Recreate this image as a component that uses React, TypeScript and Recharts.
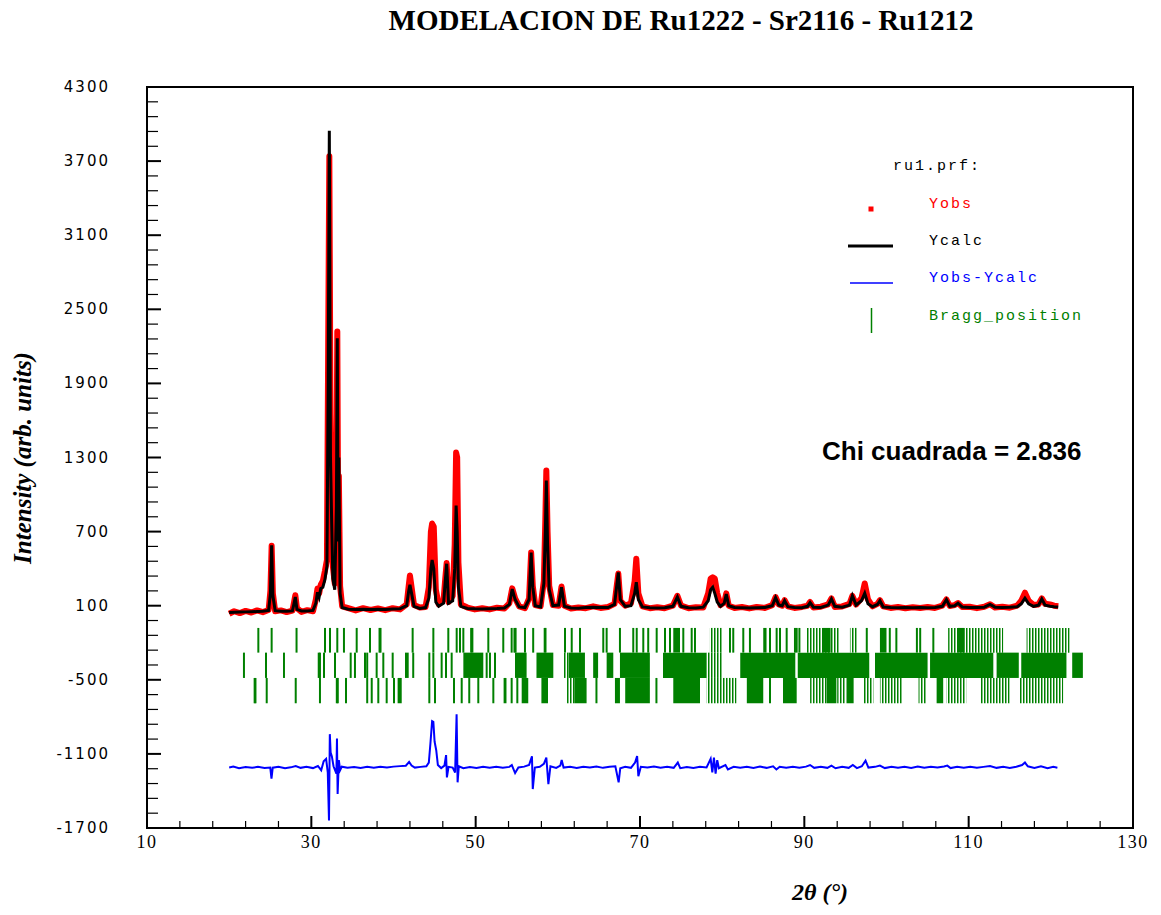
import React from 'react';
import { LineChart, Line, XAxis, YAxis, ReferenceLine, ReferenceArea } from 'recharts';

// profile points: 2θ (deg), calculated and observed intensity
const twoTheta = [
  20.0, 20.6, 21.3, 22.0, 22.7, 23.4, 24.1, 24.8, 25.02, 25.17, 25.32, 25.6, 26.3, 27.0, 27.7, 27.9,
  28.05, 28.25, 28.8, 29.5, 30.2, 30.55, 30.75, 30.95, 31.15, 31.4, 31.65, 31.9, 32.05, 32.19, 32.33,
  32.48, 32.62, 32.85, 33.05, 33.16, 33.26, 33.35, 33.5, 33.75, 34.5, 35.4, 36.3, 37.2, 38.1, 39.0,
  39.9, 40.8, 41.6, 41.85, 42.0, 42.2, 42.5, 43.2, 43.9, 44.3, 44.55, 44.7, 44.9, 45.15, 45.5, 46.1,
  46.3, 46.47, 46.7, 47.2, 47.45, 47.62, 47.75, 47.9, 48.2, 49.0, 49.9, 50.8, 51.7, 52.6, 53.5, 54.1,
  54.45, 54.8, 55.3, 56.0, 56.5, 56.75, 56.95, 57.25, 57.9, 58.3, 58.48, 58.6, 58.75, 58.95, 59.4,
  60.1, 60.45, 60.8, 61.6, 62.5, 63.4, 64.3, 65.2, 66.1, 66.9, 67.15, 67.36, 67.6, 68.2, 68.9, 69.35,
  69.55, 69.8, 70.3, 71.2, 72.1, 73.0, 74.0, 74.55, 75.0, 75.9, 76.8, 77.7, 78.3, 78.6, 78.85, 79.1,
  79.4, 79.8, 80.25, 80.5, 80.8, 81.5, 82.4, 83.3, 84.2, 85.2, 86.1, 86.5, 86.9, 87.3, 87.6, 88.0,
  88.8, 89.7, 90.4, 90.7, 91.1, 92.0, 92.9, 93.3, 93.7, 94.6, 95.5, 95.85, 96.3, 96.95, 97.35, 97.75,
  98.3, 98.9, 99.2, 99.6, 100.5, 101.4, 102.3, 103.2, 104.1, 105.0, 105.9, 106.8, 107.3, 107.7, 108.3,
  108.7, 109.2, 110.1, 111.0, 111.9, 112.6, 113.2, 114.1, 115.0, 115.9, 116.4, 116.85, 117.3, 117.9,
  118.5, 118.9, 119.3, 119.9, 120.4, 120.9,
];
const yCalc = [
  45, 47, 48, 50, 51, 53, 55, 62, 200, 590, 180, 60, 56, 55, 58, 120,
  170, 70, 58, 58, 62, 120, 210, 170, 240, 250, 310, 420, 1900, 3946, 1300,
  765, 320, 230, 900, 2265, 620, 1300, 200, 85, 72, 70, 72, 70, 72, 70,
  73, 76, 100, 220, 270, 200, 95, 78, 85, 160, 400, 470, 400, 130, 95, 120,
  300, 440, 120, 140, 400, 911, 700, 250, 95, 78, 75, 74, 75, 77, 82, 110,
  235, 150, 90, 85, 150, 530, 250, 100, 90, 280, 700, 1113, 600, 230, 100,
  105, 250, 95, 82, 80, 85, 88, 86, 85, 110, 250, 370, 150, 95, 100, 200,
  290, 150, 90, 84, 82, 84, 95, 170, 95, 84, 82, 88, 140, 230, 250, 200,
  130, 95, 120, 195, 100, 86, 84, 82, 84, 86, 100, 165, 105, 100, 140, 92,
  86, 84, 95, 125, 88, 86, 105, 155, 95, 88, 105, 180, 105, 140, 200, 115,
  92, 110, 140, 90, 86, 84, 85, 83, 86, 84, 85, 95, 150, 95, 100,
  120, 90, 86, 85, 88, 110, 88, 86, 88, 92, 115, 160, 115, 95,
  105, 155, 105, 95, 92, 90,
];
const yObs = [
  35, 55, 40, 58, 45, 62, 48, 65, 220, 585, 200, 55, 62, 48, 60, 130,
  185, 80, 50, 64, 55, 150, 240, 200, 270, 300, 380, 470, 2200, 3740, 1650,
  720, 420, 280, 1100, 2320, 800, 1150, 260, 95, 80, 62, 80, 65, 78, 64,
  80, 70, 110, 260, 345, 250, 105, 85, 90, 250, 700, 765, 740, 230, 110, 150,
  320, 445, 130, 180, 600, 1340, 1300, 450, 110, 85, 70, 80, 70, 84, 78, 120,
  240, 160, 95, 80, 160, 530, 260, 105, 95, 300, 800, 1195, 700, 260, 105,
  100, 255, 100, 78, 86, 80, 95, 82, 90, 115, 250, 360, 140, 100, 120, 300,
  480, 200, 95, 80, 88, 80, 100, 180, 100, 80, 88, 85, 200, 320, 330, 320,
  200, 105, 125, 200, 100, 82, 90, 78, 90, 82, 105, 170, 110, 100, 145, 95,
  82, 90, 100, 130, 85, 92, 110, 160, 90, 94, 115, 180, 110, 160, 280, 150,
  95, 115, 145, 95, 82, 90, 80, 88, 82, 90, 82, 100, 150, 98, 105,
  122, 90, 92, 80, 92, 112, 85, 92, 84, 100, 140, 205, 140, 105,
  110, 160, 115, 110, 100, 95,
];

// difference curve, drawn shifted below the Bragg marks
const diffTheta = [
  20.0, 20.5, 21.2, 22.0, 22.8, 23.5, 24.3, 25.0, 25.15, 25.3, 26.0, 26.8, 27.5, 28.1, 28.7, 29.4,
  30.2, 30.8, 31.2, 31.5, 31.8, 32.0, 32.15, 32.25, 32.35, 32.5, 32.7, 33.05, 33.12, 33.2, 33.35,
  33.5, 33.7, 34.4, 35.2, 36.0, 36.8, 37.6, 38.4, 39.2, 40.0, 40.8, 41.5, 41.9, 42.2, 42.6, 43.3,
  44.0, 44.3, 44.5, 44.7, 44.85, 45.0, 45.2, 45.4, 45.8, 46.2, 46.4, 46.5, 46.7, 47.2, 47.5, 47.68,
  47.8, 47.95, 48.5, 49.3, 50.1, 50.9, 51.7, 52.5, 53.3, 54.1, 54.4, 54.8, 55.2, 55.9, 56.5, 56.85,
  56.95, 57.2, 57.8, 58.3, 58.6, 58.85, 59.1, 59.8, 60.3, 60.47, 60.7, 61.5, 62.3, 63.1, 63.9, 64.7,
  65.5, 66.3, 67.0, 67.4, 67.6, 68.2, 68.9, 69.4, 69.65, 69.8, 70.1, 70.9, 71.7, 72.5, 73.3, 74.1,
  74.6, 74.9, 75.7, 76.5, 77.3, 78.1, 78.6, 78.8, 79.0, 79.2, 79.4, 79.6, 80.4, 80.7, 81.4, 82.2,
  83.0, 83.8, 84.6, 85.4, 86.2, 86.6, 87.0, 87.8, 88.6, 89.4, 90.2, 90.7, 91.2, 92.0, 92.8, 93.3,
  93.8, 94.6, 95.4, 95.9, 96.4, 97.0, 97.45, 97.8, 98.6, 99.2, 99.8, 100.6, 101.4, 102.2, 103.0,
  103.8, 104.6, 105.4, 106.2, 107.0, 107.4, 107.8, 108.6, 109.4, 110.2, 111.0, 111.8, 112.6, 113.4,
  114.2, 115.0, 115.8, 116.5, 116.85, 117.2, 118.0, 118.8, 119.6, 120.3, 120.8,
];
const yObsMinusCalc = [
  -1210, -1203, -1216, -1207, -1213, -1205, -1215, -1210, -1300, -1212, -1204, -1216, -1209, -1198, -1213, -1205,
  -1215, -1198, -1232, -1160, -1140, -1250, -1640, -940, -1090, -1120, -1200, -1260, -975, -1425, -1150,
  -1232, -1204, -1213, -1207, -1215, -1205, -1213, -1204, -1211, -1203, -1199, -1196, -1165, -1195, -1211, -1205,
  -1200, -1170, -1010, -835, -840, -1000, -1070, -1190, -1215, -1195, -1110, -1290, -1205, -1211, -1250, -780,
  -1330, -1200, -1216, -1207, -1215, -1205, -1213, -1204, -1213, -1205, -1190, -1255, -1210, -1203, -1190, -1120,
  -1385, -1211, -1204, -1180, -1130, -1345, -1200, -1213, -1195, -1150, -1211, -1204, -1214, -1205, -1211, -1202,
  -1213, -1204, -1200, -1330, -1216, -1204, -1213, -1170, -1117, -1280, -1204, -1211, -1203, -1213, -1205, -1213,
  -1170, -1216, -1206, -1214, -1205, -1210, -1140, -1250, -1130, -1260, -1150, -1216, -1190, -1226, -1204, -1213,
  -1205, -1214, -1203, -1213, -1200, -1226, -1204, -1213, -1205, -1213, -1203, -1190, -1213, -1205, -1213, -1195,
  -1216, -1204, -1213, -1190, -1215, -1200, -1155, -1211, -1205, -1195, -1215, -1204, -1213, -1205, -1214,
  -1203, -1213, -1205, -1211, -1202, -1195, -1215, -1205, -1213, -1204, -1213, -1205, -1198, -1213,
  -1205, -1214, -1204, -1190, -1170, -1200, -1213, -1200, -1215, -1205, -1212,
];

// Bragg reflections, three phases: single marks, solid runs, dense runs of thin marks
const braggTicks1 = [
  23.55, 25.17, 28.2, 31.66, 32.27, 33.16, 33.97, 35.52, 37.14, 38.3, 38.42, 42.33, 44.85, 46.67, 47.69,
  48.09, 48.5, 49.45, 49.6, 51.54, 53.36, 54.38, 54.72, 54.86, 56.0, 57.0, 58.4, 58.5, 60.87, 61.69, 62.7,
  65.53, 65.94, 67.56, 69.18, 69.6, 70.4, 71.0, 72.03, 73.04, 73.65, 75.27, 76.29, 76.69, 80.95, 81.35,
  82.57, 83.38, 85.82, 86.63, 87.04, 87.85, 88.86, 89.07, 89.4, 97.6, 100.4, 101.2, 103.7, 104.1, 105.7,
];
const braggSolid1 = [[74.05, 74.87], [85.0, 85.4], [92.2, 93.2], [99.2, 100.0], [108.7, 109.5]];
const braggDense1 = [[78.5, 80.1], [90.3, 94.3], [95.55, 96.4], [107.5, 114.2], [117.05, 122.3]];

const braggTicks2 = [
  21.8, 24.48, 26.67, 30.9, 31.05, 31.54, 32.88, 34.79, 35.31, 36.53, 36.8, 37.95, 38.76, 39.9, 42.4,
  44.36, 44.85, 45.86, 46.39, 47.08, 51.34, 51.74, 52.35,
];
const braggSolid2 = [
  [41.4, 41.85], [48.5, 50.93], [54.79, 56.2], [57.4, 59.45], [61.3, 63.3], [64.3, 64.9], [65.94, 66.75],
  [67.56, 71.2], [72.8, 78.1], [82.2, 88.9], [89.2, 97.9], [98.6, 105.0], [105.3, 113.0], [113.4, 116.1],
  [116.4, 121.9], [122.6, 123.9],
];
const braggDense2 = [[60.7, 61.3], [78.1, 80.1]];

const braggTicks3 = [
  23.1, 23.2, 24.57, 28.1, 31.05, 33.1, 33.22, 34.22, 36.8, 37.35, 38.15, 39.17, 40.06, 44.36, 45.05,
  47.36, 48.3, 49.22, 50.32, 52.15, 54.38, 55.07, 64.7, 72.0, 85.82,
];
const braggSolid3 = [
  [40.5, 41.0], [53.4, 53.75], [55.6, 56.4], [58.0, 58.8], [62.0, 63.5], [66.95, 67.56], [68.2, 71.2],
  [74.05, 77.3], [83.0, 85.0], [87.4, 89.07], [92.7, 93.9], [95.15, 96.0], [106.1, 106.9],
];
const braggDense3 = [
  [61.1, 62.0], [78.1, 81.75], [90.7, 92.7], [94.0, 95.1], [97.2, 98.4], [99.2, 102.0], [103.9, 104.9],
  [107.3, 109.7], [111.4, 115.0], [116.2, 121.5],
];

const xMajorTicks = [10, 30, 50, 70, 90, 110, 130];
const xMinorTicks = [
  10, 14, 18, 22, 26, 30, 34, 38, 42, 46, 50, 54, 58, 62, 66, 70, 74, 78, 82, 86, 90, 94, 98, 102, 106,
  110, 114, 118, 122, 126, 130,
];
const yMajorTicks = [-1700, -1100, -500, 100, 700, 1300, 1900, 2500, 3100, 3700, 4300];
const yMinorTicks = [
  -1700, -1580, -1460, -1340, -1220, -1100, -980, -860, -740, -620, -500, -380, -260, -140, -20, 100, 220,
  340, 460, 580, 700, 820, 940, 1060, 1180, 1300, 1420, 1540, 1660, 1780, 1900, 2020, 2140, 2260, 2380,
  2500, 2620, 2740, 2860, 2980, 3100, 3220, 3340, 3460, 3580, 3700, 3820, 3940, 4060, 4180, 4300,
];

const profileData = twoTheta.map((t, i) => ({ t, calc: yCalc[i], obs: yObs[i] }));
const diffData = diffTheta.map((t, i) => ({ t, diff: yObsMinusCalc[i] }));

const braggPhases = [
  { ticks: braggTicks1, solid: braggSolid1, dense: braggDense1, top: -80, bottom: -280 },
  { ticks: braggTicks2, solid: braggSolid2, dense: braggDense2, top: -280, bottom: -485 },
  { ticks: braggTicks3, solid: braggSolid3, dense: braggDense3, top: -485, bottom: -690 },
];

const GREEN = '#008000';

const BottomTick = ({ x, y, payload }: any) => {
  const major = xMajorTicks.includes(payload.value);
  return (
    <g>
      <line x1={x} x2={x} y1={y} y2={y - (major ? 12 : 7)} stroke="#000" strokeWidth={major ? 2 : 1.2} />
      {major && (
        <text x={x} y={y + 20} textAnchor="middle" fontFamily="Liberation Serif" fontSize={18}
          letterSpacing={1.5} fill="#000">{payload.value}</text>
      )}
    </g>
  );
};

const TopTick = ({ x, y, payload }: any) => {
  const major = xMajorTicks.includes(payload.value);
  return <line x1={x} x2={x} y1={y} y2={y + (major ? 12 : 7)} stroke="#000" strokeWidth={major ? 2 : 1.2} />;
};

const LeftTick = ({ x, y, payload }: any) => {
  const major = yMajorTicks.includes(payload.value);
  return (
    <g>
      <line x1={x} x2={x + (major ? 14 : 11)} y1={y} y2={y} stroke="#000" strokeWidth={major ? 2 : 1.2} />
      {major && (
        <text x={x - 37} y={y} dy={5} textAnchor="end" fontFamily="DejaVu Sans" fontSize={15}
          letterSpacing={2} fill="#000">{payload.value}</text>
      )}
    </g>
  );
};

const RightTick = ({ x, y, payload }: any) => {
  const major = yMajorTicks.includes(payload.value);
  return <line x1={x} x2={x - (major ? 14 : 11)} y1={y} y2={y} stroke="#000" strokeWidth={major ? 2 : 1.2} />;
};

export default function App() {
  return (
    <div style={{ position: 'absolute', left: 0, top: 0, width: 1161, height: 915, background: '#fff' }}>
      <LineChart width={1161} height={915} margin={{ top: 86, right: 27, bottom: 27, left: 67 }}>
        <defs>
          <pattern id="braggDense" patternUnits="userSpaceOnUse" width={3} height={4}>
            <rect x={0} y={0} width={1.5} height={4} fill={GREEN} />
          </pattern>
        </defs>
        <XAxis xAxisId="x" type="number" dataKey="t" domain={[10, 130]} ticks={xMinorTicks} interval={0}
          tickSize={0} tickMargin={0} axisLine={false} tickLine={false} height={60}
          tick={(p: any) => <BottomTick {...p} />} />
        <XAxis xAxisId="top" orientation="top" type="number" dataKey="t" domain={[10, 130]} ticks={xMinorTicks}
          interval={0} tickSize={0} tickMargin={0} axisLine={false} tickLine={false} height={1}
          tick={(p: any) => <TopTick {...p} />} />
        <YAxis yAxisId="y" type="number" domain={[-1700, 4300]} ticks={yMinorTicks} interval={0} width={80}
          tickSize={0} tickMargin={0} axisLine={false} tickLine={false}
          tick={(p: any) => <LeftTick {...p} />} />
        <YAxis yAxisId="right" orientation="right" type="number" domain={[-1700, 4300]} ticks={yMinorTicks}
          interval={0} width={1} tickSize={0} tickMargin={0} axisLine={false} tickLine={false}
          tick={(p: any) => <RightTick {...p} />} />

        {braggPhases.map((ph, r) => (
          <React.Fragment key={r}>
            {ph.solid.map(([a, b], i) => (
              <ReferenceArea key={`s${r}-${i}`} xAxisId="x" yAxisId="y" x1={a} x2={b} y1={ph.bottom} y2={ph.top}
                fill={GREEN} fillOpacity={1} stroke="none" />
            ))}
            {ph.dense.map(([a, b], i) => (
              <ReferenceArea key={`d${r}-${i}`} xAxisId="x" yAxisId="y" x1={a} x2={b} y1={ph.bottom} y2={ph.top}
                fill="url(#braggDense)" fillOpacity={1} stroke="none" />
            ))}
            {ph.ticks.map((t, i) => (
              <ReferenceLine key={`t${r}-${i}`} xAxisId="x" yAxisId="y"
                segment={[{ x: t, y: ph.top }, { x: t, y: ph.bottom }]} stroke={GREEN} strokeWidth={2} />
            ))}
          </React.Fragment>
        ))}

        <Line xAxisId="x" yAxisId="y" data={profileData} dataKey="obs" name="Yobs" type="linear" stroke="#ff0000"
          strokeWidth={6} strokeLinejoin="round" dot={false} isAnimationActive={false} />
        <Line xAxisId="x" yAxisId="y" data={profileData} dataKey="calc" name="Ycalc" type="linear" stroke="#000"
          strokeWidth={3} dot={false} isAnimationActive={false} />
        <Line xAxisId="x" yAxisId="y" data={diffData} dataKey="diff" name="Yobs-Ycalc" type="linear" stroke="#0000ff"
          strokeWidth={2} dot={false} isAnimationActive={false} />

        <ReferenceArea xAxisId="x" yAxisId="y" x1={10} x2={130} y1={-1700} y2={4300} fill="none"
          stroke="#000" strokeWidth={2} />
      </LineChart>

      <svg width={1161} height={915} style={{ position: 'absolute', left: 0, top: 0, pointerEvents: 'none' }}>
        <text x={681} y={30} textAnchor="middle" fontFamily="Liberation Serif" fontWeight="bold" fontSize={29}
          fill="#000">MODELACION DE Ru1222 - Sr2116 - Ru1212</text>
        <text transform="translate(31,458) rotate(-90)" textAnchor="middle" fontFamily="Liberation Serif"
          fontWeight="bold" fontStyle="italic" fontSize={25} fill="#000">Intensity (arb. units)</text>
        <text x={820} y={900} textAnchor="middle" fontFamily="Liberation Serif" fontWeight="bold"
          fontStyle="italic" fontSize={24} fill="#000">2θ (°)</text>
        <text x={822} y={460} fontFamily="Liberation Sans" fontWeight="bold" fontSize={26}
          fill="#000">Chi cuadrada = 2.836</text>

        <g fontFamily="Liberation Mono" fontSize={15} letterSpacing={2}>
          <text x={893} y={170} fill="#000">ru1.prf:</text>
          <rect x={868.5} y={206.5} width={5} height={5} fill="#ff0000" />
          <text x={929} y={208} fill="#ff0000">Yobs</text>
          <line x1={848} x2={893} y1={246} y2={246} stroke="#000" strokeWidth={3} />
          <text x={929} y={245} fill="#000">Ycalc</text>
          <line x1={850} x2={893} y1={283} y2={283} stroke="#0000ff" strokeWidth={1.5} />
          <text x={929} y={282} fill="#0000ff">Yobs-Ycalc</text>
          <line x1={871.5} x2={871.5} y1={308} y2={333} stroke={GREEN} strokeWidth={1.5} />
          <text x={929} y={320} fill={GREEN}>Bragg_position</text>
        </g>
      </svg>
    </div>
  );
}
